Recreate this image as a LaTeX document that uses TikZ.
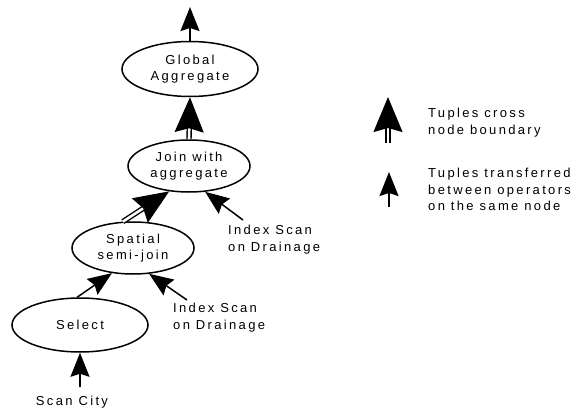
\documentclass[tikz,border=0pt]{standalone}
\usepackage{fontspec}
\setmainfont{Liberation Sans}[LetterSpace=18]
\usetikzlibrary{arrows.meta,shapes.geometric,calc}
\begin{document}
\begin{tikzpicture}[x=1pt,y=-1pt,
  op/.style={ellipse, draw, line width=1.5pt, inner sep=0pt, align=center},
  single/.style={line width=1.5pt, -{Stealth[length=24pt,width=19pt,inset=3pt]}},
  dshaft/.style={double, line width=1.4pt, double distance=2.6pt, shorten >=26pt},
  dhead/.style={line width=1.5pt, -{Stealth[length=35pt,width=29pt,inset=4pt]}},
  lbl/.style={align=left, anchor=north west, inner sep=0pt},
  every node/.style={font=\fontsize{13}{16.5}\selectfont}]
\useasboundingbox (0,0) rectangle (573,409);

% operators
\node[op, minimum width=136pt, minimum height=55pt] (GA) at (190,69) {Global\\Aggregate};
\node[op, minimum width=122pt, minimum height=52pt] (JA) at (189,166) {Join with\\aggregate};
\node[op, minimum width=122pt, minimum height=52pt] (SS) at (133,248) {Spatial\\semi-join};
\node[op, minimum width=136pt, minimum height=54pt] (SE) at (80,325) {Select};

% free ends
\coordinate (top) at (190,7);
\coordinate (scan) at (80,387);
\coordinate (ix1) at (243,220);
\coordinate (ix2) at (187,300);

% labels
\node[lbl] (ix1t) at (228,225) {Index Scan\\on Drainage};
\node[lbl] (ix2t) at (173,303) {Index Scan\\on Drainage};
\node (scant) at (72,402) {Scan City};

% single arrows
\draw[single] (GA.north) -- (top);
\draw[single] (scan) -- (SE.south);
\draw[single] (SE.96) -- (SS.230);
\draw[single] (ix2) -- (SS.302);
\draw[single] (ix1) -- (JA.302);

% double arrows (cross node boundary)
\draw[dshaft] (JA.north) -- (GA.south);
\draw[dhead] ($(GA.south)!30pt!(JA.north)$) -- (GA.south);
\draw[dshaft] (SS.111) -- (JA.232);
\draw[dhead] ($(JA.232)!30pt!(SS.111)$) -- (JA.232);

% legend
\coordinate (l1b) at (388,143);
\coordinate (l1t) at (388,97);
\coordinate (l2b) at (389,207);
\coordinate (l2t) at (389,172);
\draw[dshaft] (l1b) -- (l1t);
\draw[dhead] ($(l1t)!30pt!(l1b)$) -- (l1t);
\draw[single] (l2b) -- (l2t);
\node[lbl] (lg1) at (428,108) {Tuples cross\\node boundary};
\node[lbl] (lg2) at (428,168) {Tuples transferred\\between operators\\on the same node};
\end{tikzpicture}
\end{document}
